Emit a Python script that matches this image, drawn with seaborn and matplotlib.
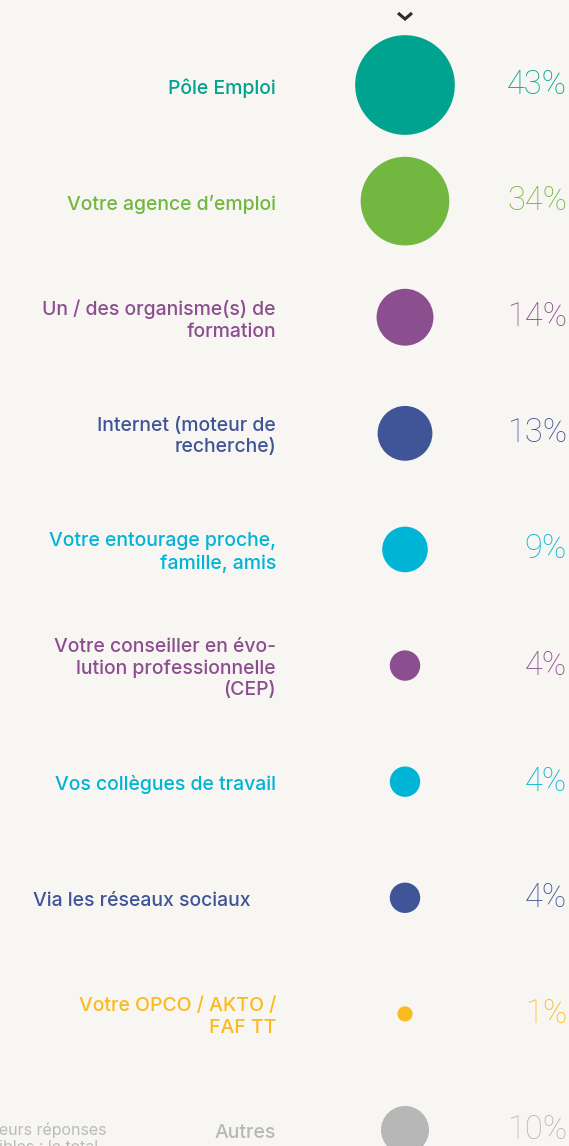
import numpy as np
import pandas as pd
import matplotlib
matplotlib.use("Agg")
import matplotlib.pyplot as plt
import seaborn as sns

# data
labels = [
    "Pôle Emploi",
    "Votre agence d’emploi",
    "Un / des organisme(s) de\nformation",
    "Internet (moteur de\nrecherche)",
    "Votre entourage proche,\nfamille, amis",
    "Votre conseiller en évo-\nlution professionnelle\n(CEP)",
    "Vos collègues de travail",
    "Via les réseaux sociaux",
    "Votre OPCO / AKTO /\nFAF TT",
    "Autres",
]
values = [43, 34, 14, 13, 9, 4, 4, 4, 1, 10]
colors = ["#00A38D", "#72B73F", "#8B4F8F", "#3F5597", "#00B4D5",
          "#8B4F8F", "#00B4D5", "#3F5597", "#FBBA1D", "#B7B7B7"]

df = pd.DataFrame({"label": labels, "value": values, "x": 0})

bg = "#F8F6F3"
sns.set_theme(style="white")
plt.rcParams["font.family"] = ["Inter", "DejaVu Sans"]

fig = plt.figure(figsize=(5.69, 11.46), dpi=100, facecolor=bg)
ax = fig.add_axes([0, 0, 1, 1])
ax.set_facecolor(bg)

# bubble area proportional to value
k = 119.8
sns.scatterplot(data=df, x="x", y="label", size="value", hue="label",
                palette=colors, sizes=(k * min(values), k * max(values)),
                size_norm=(min(values), max(values)), legend=False,
                linewidth=0, ax=ax)

step = 116.1  # pixels per row
ax.set_xlim(-405, 164)
ax.set_ylim(9 + 16 / step, -85 / step)
ax.axis("off")

def py(p):
    return (p - 85) / step

for i, (lab, v, c) in enumerate(zip(labels, values, colors)):
    x_lab = -154 if lab.startswith("Via") else -129
    ax.text(x_lab, i + 3 / step, lab, ha="right", va="center", color=c,
            fontsize=14, fontweight="medium", linespacing=1.25)
    ax.text(162, i, f"{v}%", ha="right", va="center", color=c, fontsize=23.5,
            family=["Roboto", "DejaVu Sans"], fontweight="light")

# chevron at the top
ax.plot([-7, 0, 7], [py(13), py(19), py(13)], color="#2b2b2b", lw=2.2,
        solid_capstyle="butt", solid_joinstyle="miter")

# note, cut by the left edge
ax.text(-299, py(1122), "Plusieurs réponses\npossibles : le total", ha="right",
        va="top", color="#BBBBBB", fontsize=11.5, multialignment="left",
        linespacing=1.2)

fig.savefig("out.png", dpi=100, facecolor=bg)
